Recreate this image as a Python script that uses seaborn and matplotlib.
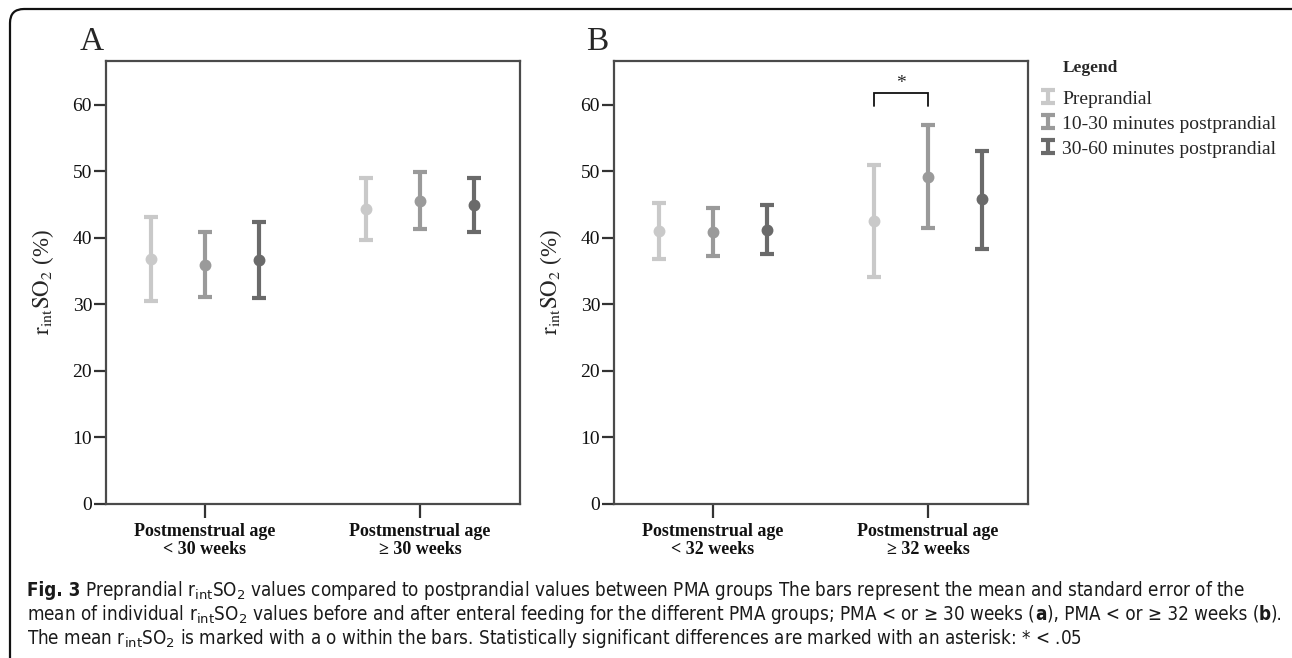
import numpy as np
import pandas as pd
import matplotlib
matplotlib.use('Agg')
import matplotlib.pyplot as plt
import seaborn as sns
from matplotlib import font_manager
from matplotlib.patches import FancyBboxPatch
from matplotlib.transforms import IdentityTransform
from matplotlib.legend_handler import HandlerErrorbar
from matplotlib.container import ErrorbarContainer

# data (mean, lower and upper end of the SE bar)
times = ['Preprandial', '10-30 minutes postprandial', '30-60 minutes postprandial']
groups_a = ['Postmenstrual age\n< 30 weeks', 'Postmenstrual age\n\u2265 30 weeks']
groups_b = ['Postmenstrual age\n< 32 weeks', 'Postmenstrual age\n\u2265 32 weeks']

a_mean = [36.8, 35.9, 36.7, 44.3, 45.6, 45.0]
a_low = [30.5, 31.1, 31.0, 39.7, 41.4, 40.9]
a_high = [43.2, 40.9, 42.4, 49.0, 49.9, 49.0]

b_mean = [41.0, 40.9, 41.2, 42.6, 49.2, 45.9]
b_low = [36.8, 37.3, 37.6, 34.1, 41.5, 38.3]
b_high = [45.3, 44.5, 45.0, 51.0, 57.0, 53.1]

colors = ['#c9c9c9', '#9a9a9a', '#6a6a6a']

W, H = 1292, 658

sns.set_style('ticks')
names = {f.name for f in font_manager.fontManager.ttflist}
cap_font = 'Liberation Sans Narrow' if 'Liberation Sans Narrow' in names else 'DejaVu Sans'
plt.rcParams['font.family'] = ['Liberation Serif', 'DejaVu Serif']
plt.rcParams['mathtext.fontset'] = 'custom'
plt.rcParams['mathtext.rm'] = cap_font
plt.rcParams['mathtext.bf'] = cap_font + ':bold'

fig = plt.figure(figsize=(W / 100, H / 100), dpi=100)


def make_df(groups, mean, low, high):
    rows = []
    for gi, g in enumerate(groups):
        for ti, t in enumerate(times):
            k = gi * len(times) + ti
            rows.append({'group': g, 'time': t, 'mean': mean[k],
                         'low': low[k], 'high': high[k]})
    return pd.DataFrame(rows)


def draw_panel(ax, df, groups):
    sns.pointplot(data=df, x='group', y='mean', hue='time', order=groups,
                  hue_order=times, palette=colors, dodge=0.5, linestyle='none',
                  markers='o', markersize=6.5, errorbar=None, legend=False, ax=ax)
    handles = []
    for ti, t in enumerate(times):
        line = ax.lines[ti]
        line.set_zorder(5)
        xs = line.get_xdata()
        sub = df[df['time'] == t].set_index('group').loc[groups]
        ys = sub['mean'].values
        err = [ys - sub['low'].values, sub['high'].values - ys]
        cont = ax.errorbar(xs, ys, yerr=err, fmt='none', ecolor=colors[ti],
                           elinewidth=3, capsize=5, capthick=3, zorder=4)
        handles.append(cont)
    ax.set_ylim(0, 66.6)
    ax.set_xlim(-0.46, 1.465)
    ax.set_yticks([0, 10, 20, 30, 40, 50, 60])
    ax.set_xlabel('')
    ax.set_ylabel(r'$\mathrm{r_{int}SO_2}$ (%)', fontsize=16.5, labelpad=12,
                  math_fontfamily='stix')
    ax.tick_params(axis='y', length=9, width=1.6, color='#333333',
                   labelsize=14, pad=1, labelcolor='#111111')
    ax.tick_params(axis='x', length=10, width=1.6, color='#333333',
                   labelsize=13, pad=4, labelcolor='#111111')
    for lab in ax.get_xticklabels():
        lab.set_fontweight('bold')
        lab.set_linespacing(1.05)
    for sp in ax.spines.values():
        sp.set_visible(True)
        sp.set_linewidth(1.6)
        sp.set_color('#4a4a4a')
    return handles


ax_a = fig.add_axes([106 / W, 1 - 504 / H, 414 / W, 443 / H])
ax_b = fig.add_axes([614 / W, 1 - 504 / H, 414 / W, 443 / H])

df_a = make_df(groups_a, a_mean, a_low, a_high)
df_b = make_df(groups_b, b_mean, b_low, b_high)
handles = draw_panel(ax_a, df_a, groups_a)
draw_panel(ax_b, df_b, groups_b)

# significance bracket in panel B
x_pre = ax_b.lines[0].get_xdata()[1]
x_mid = ax_b.lines[1].get_xdata()[1]
ax_b.plot([x_pre, x_pre, x_mid, x_mid], [59.8, 61.8, 61.8, 59.8],
          color='#111111', lw=1.3, solid_joinstyle='miter')
ax_b.text((x_pre + x_mid) / 2, 62.0, '*', ha='center', va='bottom', fontsize=14)

# panel letters
fig.text(80 / W, 1 - 50 / H, 'A', fontsize=24, ha='left', va='baseline')
fig.text(586 / W, 1 - 50 / H, 'B', fontsize=24, ha='left', va='baseline')

# legend
fig.text(1063 / W, 1 - 72 / H, 'Legend', fontsize=12.5, fontweight='bold',
         ha='left', va='baseline')
leg = fig.legend(handles=handles, labels=times, loc='upper left',
                 bbox_to_anchor=(1043 / W, 1 - 90 / H), frameon=False,
                 prop={'family': 'Liberation Serif', 'size': 14},
                 handler_map={ErrorbarContainer: HandlerErrorbar(yerr_size=0.33)},
                 handlelength=0.5, handletextpad=0.5, handleheight=0.7,
                 labelspacing=0.38, borderaxespad=0, borderpad=0)

# outer rounded frame
frame = FancyBboxPatch((10, -30), W + 20, H - 8 + 30 - 1,
                       boxstyle='round,pad=0,rounding_size=14',
                       transform=IdentityTransform(), fill=False,
                       edgecolor='#111111', linewidth=1.6)
fig.add_artist(frame)

# caption with mixed weights
renderer = fig.canvas.get_renderer()


def rich_line(x, y, pieces, size=13.5):
    for s, w in pieces:
        t = fig.text(x / W, 1 - y / H, s, fontsize=size, fontweight=w,
                     family=[cap_font, 'DejaVu Sans'], fontstretch='condensed',
                     color='#1a1a1a', ha='left', va='baseline',
                     math_fontfamily='custom')
        bb = t.get_window_extent(renderer=renderer)
        x += bb.width


sub = r'r$_{\mathrm{int}}$SO$_2$'
rich_line(27, 596, [('Fig. 3', 'bold'),
                    (' Preprandial ' + sub + ' values compared to postprandial values between PMA groups The bars represent the mean and standard error of the', 'normal')])
rich_line(27, 620, [('mean of individual ' + sub + ' values before and after enteral feeding for the different PMA groups; PMA < or \u2265 30 weeks (', 'normal'),
                    ('a', 'bold'), ('), PMA < or \u2265 32 weeks (', 'normal'),
                    ('b', 'bold'), (').', 'normal')])
rich_line(27, 644, [('The mean ' + sub + ' is marked with a o within the bars. Statistically significant differences are marked with an asterisk: * < .05', 'normal')])

fig.savefig('out.png', dpi=100)
